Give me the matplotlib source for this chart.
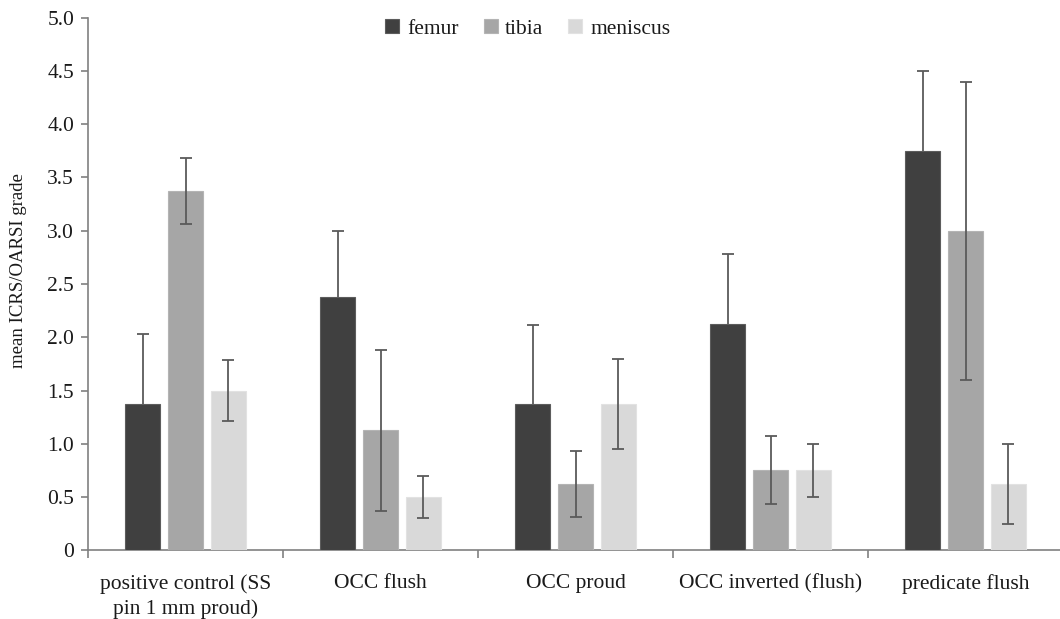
import matplotlib
matplotlib.use("Agg")
import matplotlib.pyplot as plt
import numpy as np

plt.rcParams['font.family'] = ['Liberation Serif', 'DejaVu Serif']

categories = ["positive control (SS\npin 1 mm proud)", "OCC flush", "OCC proud",
              "OCC inverted (flush)", "predicate flush"]
series = ["femur", "tibia", "meniscus"]
femur = [1.375, 2.375, 1.375, 2.125, 3.75]
tibia = [3.375, 1.125, 0.625, 0.75, 3.0]
meniscus = [1.5, 0.5, 1.375, 0.75, 0.625]
femur_err = [0.66, 0.625, 0.74, 0.66, 0.75]
tibia_err = [0.31, 0.76, 0.31, 0.32, 1.4]
meniscus_err = [0.29, 0.2, 0.42, 0.25, 0.375]

colors = ["#404040", "#a6a6a6", "#d9d9d9"]
edges = ["#5c5c5c", "#b4b4b4", "#e2e2e2"]
err_color = "#5a5a5a"

fig = plt.figure(figsize=(10.6, 6.19), dpi=100)
ax = fig.add_axes([88/1060, 1-550.3/619, 975/1060, (550.3-17.7)/619])

x = np.arange(len(categories))
offsets = [-0.22, 0.0, 0.22]
width = 0.18
vals = [femur, tibia, meniscus]
errs = [femur_err, tibia_err, meniscus_err]
for i in range(3):
    ax.bar(x + offsets[i], vals[i], width, color=colors[i], edgecolor=edges[i],
           linewidth=0.8, label=series[i], zorder=3)
    ax.errorbar(x + offsets[i], vals[i], yerr=errs[i], fmt='none', ecolor=err_color,
                elinewidth=1.3, capsize=4.5, capthick=1.3,
                zorder=2 if i == 0 else 4)

ax.set_xlim(-0.5, 4.5)
ax.set_ylim(0, 5.0)
ax.set_yticks(np.arange(0, 5.01, 0.5))
ax.set_yticklabels(["0"] + [f"{v:.1f}" for v in np.arange(0.5, 5.01, 0.5)])
ax.set_xticks(x)
ax.set_xticklabels(categories, linespacing=1.4)
ax.set_xticks(np.arange(-0.5, 4.51, 1.0), minor=True)
ax.tick_params(axis='x', which='major', length=0, pad=17, labelsize=15.5, colors='#1a1a1a')
ax.tick_params(axis='x', which='minor', length=6, width=1.2, color='#808080', direction='out')
ax.tick_params(axis='y', length=5, width=1.2, color='#808080', labelsize=15.5,
               labelcolor='#1a1a1a', pad=5)

for s in ['top', 'right']:
    ax.spines[s].set_visible(False)
for s in ['left', 'bottom']:
    ax.spines[s].set_color('#808080')
    ax.spines[s].set_linewidth(1.2)

ax.set_ylabel("mean ICRS/OARSI grade", fontsize=13.5, color='#1a1a1a')
ax.yaxis.set_label_coords(-0.0625, 0.526)

leg = ax.legend(loc='upper center', bbox_to_anchor=(0.451, 1.034), ncol=3, frameon=False,
                fontsize=15.5, handlelength=0.65, handleheight=0.65, handletextpad=0.35,
                columnspacing=1.17)
for t in leg.get_texts():
    t.set_color('#1a1a1a')

fig.savefig("out.png", dpi=100)
